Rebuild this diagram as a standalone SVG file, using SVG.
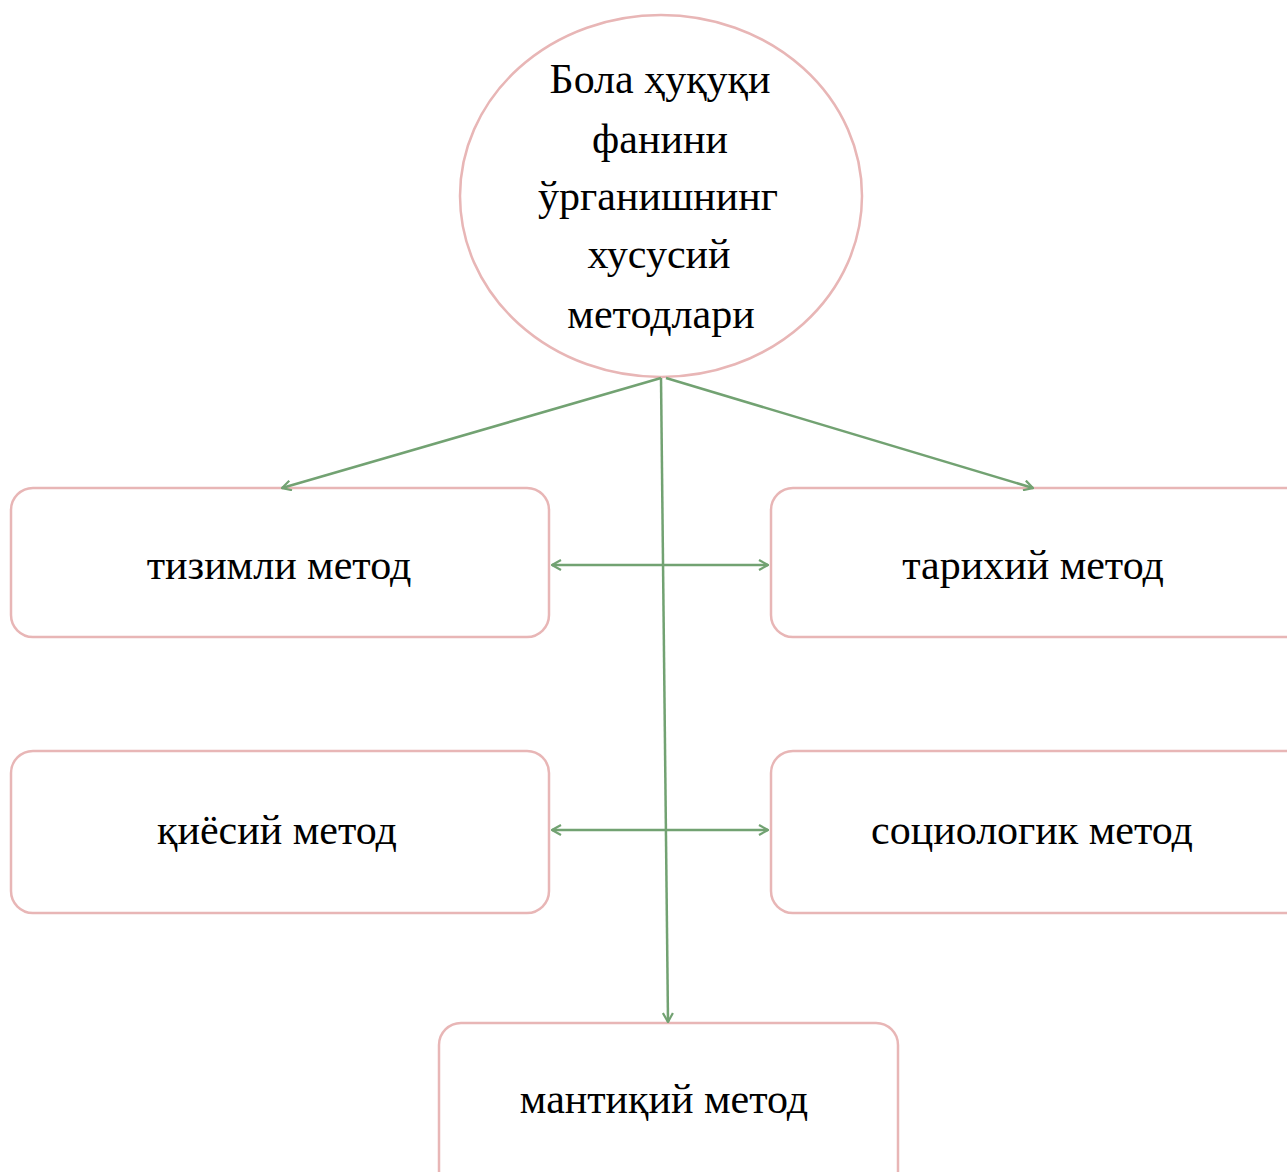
<svg xmlns="http://www.w3.org/2000/svg" width="1287" height="1172" viewBox="0 0 1287 1172">
<style>
.node{fill:#fff;stroke:#E8B6B6;stroke-width:2.5}
.lbl{font-family:"Liberation Serif","Times New Roman",serif;font-size:42px;fill:#000;text-anchor:middle}
.con{stroke:#72A272;stroke-width:2.5;fill:none}
</style>
<defs>
<marker id="ah" viewBox="0 0 12 12" refX="11" refY="6" markerWidth="12" markerHeight="12" markerUnits="userSpaceOnUse" orient="auto-start-reverse">
<polyline points="2,1 11,6 2,11" fill="none" stroke="#72A272" stroke-width="2.2"/>
</marker>
</defs>
<rect width="1287" height="1172" fill="#fff"/>
<g id="root">
<ellipse class="node" cx="661" cy="196" rx="201" ry="181"/>
<text class="lbl" x="660" y="93">Бола ҳуқуқи</text>
<text class="lbl" x="660" y="153">фанини</text>
<text class="lbl" x="658" y="210">ўрганишнинг</text>
<text class="lbl" x="659" y="268">хусусий</text>
<text class="lbl" x="661" y="328">методлари</text>
</g>
<g id="n1">
<rect class="node" x="11" y="488" width="538" height="149" rx="22"/>
<text class="lbl" x="279" y="579">тизимли метод</text>
</g>
<g id="n2">
<rect class="node" x="771" y="488" width="540" height="149" rx="22"/>
<text class="lbl" x="1033" y="579">тарихий метод</text>
</g>
<g id="n3">
<rect class="node" x="11" y="751" width="538" height="162" rx="22"/>
<text class="lbl" x="277" y="844">қиёсий метод</text>
</g>
<g id="n4">
<rect class="node" x="771" y="751" width="540" height="162" rx="22"/>
<text class="lbl" x="1032" y="844">социологик метод</text>
</g>
<g id="n5">
<rect class="node" x="439" y="1023" width="459" height="170" rx="22"/>
<text class="lbl" x="664" y="1113">мантиқий метод</text>
</g>
<g id="connectors">
<line class="con" x1="661" y1="378" x2="282" y2="488" marker-end="url(#ah)"/>
<line class="con" x1="666" y1="378" x2="1033" y2="488" marker-end="url(#ah)"/>
<line class="con" x1="661" y1="378" x2="668" y2="1022" marker-end="url(#ah)"/>
<line class="con" x1="552" y1="565" x2="768" y2="565" marker-start="url(#ah)" marker-end="url(#ah)"/>
<line class="con" x1="552" y1="830" x2="768" y2="830" marker-start="url(#ah)" marker-end="url(#ah)"/>
</g>
</svg>
